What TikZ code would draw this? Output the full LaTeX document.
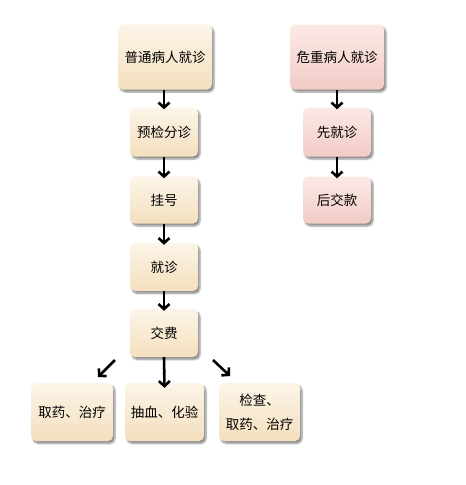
\documentclass[tikz,border=0pt]{standalone}
\usepackage{fontspec}
\newfontfamily\cjk{Noto Sans CJK SC}
\usetikzlibrary{arrows.meta,shadows.blur}
\definecolor{ctop}{HTML}{FCF5E8}
\definecolor{cbot}{HTML}{F3DFBE}
\definecolor{ptop}{HTML}{FCE9E6}
\definecolor{pbot}{HTML}{F2CBC6}
\tikzset{
  box/.style={rounded corners=5pt, draw=none, top color=ctop, bottom color=cbot,
    blur shadow={shadow xshift=2pt, shadow yshift=-2.5pt, shadow blur steps=5, shadow opacity=45},
    font=\cjk\fontsize{13.5pt}{24pt}\selectfont, align=center, inner sep=0pt},
  pbox/.style={box, top color=ptop, bottom color=pbot},
  arr/.style={-{Straight Barb[length=5pt,width=11pt]}, line width=2.6pt, black}
}
\begin{document}
\begin{tikzpicture}[x=1pt,y=-1pt]
\useasboundingbox (0,0) rectangle (466,485);
% left column
\node[box, minimum width=94pt, minimum height=65pt] (a) at (165,57) {普通病人就诊};
\node[box, minimum width=68pt, minimum height=49pt] (b) at (164,132) {预检分诊};
\node[box, minimum width=68pt, minimum height=47pt] (c) at (164,200) {挂号};
\node[box, minimum width=68pt, minimum height=48pt] (d) at (164,267) {就诊};
\node[box, minimum width=68pt, minimum height=48pt] (e) at (164,333) {交费};
\node[box, minimum width=82pt, minimum height=58pt] (f) at (72,412) {取药、治疗};
\node[box, minimum width=79pt, minimum height=58pt] (g) at (164.5,412) {抽血、化验};
\node[box, minimum width=81pt, minimum height=58pt] (h) at (259.5,412) {检查、\\取药、治疗};
% right column
\node[pbox, minimum width=94pt, minimum height=65pt] (p) at (337,57) {危重病人就诊};
\node[pbox, minimum width=68pt, minimum height=49pt] (q) at (337,132) {先就诊};
\node[pbox, minimum width=68pt, minimum height=47pt] (r) at (337,200) {后交款};
% arrows
\draw[arr] (a.south -| b.north) -- ([yshift=-2pt]b.north);
\draw[arr] (b.south) -- ([yshift=-2pt]c.north);
\draw[arr] (c.south) -- ([yshift=-2pt]d.north);
\draw[arr] (d.south) -- ([yshift=-2pt]e.north);
\draw[arr] (e.south) -- ([yshift=-5pt]g.north);
\coordinate (l1) at (115,360); \coordinate (l2) at (98,377);
\coordinate (r1) at (213,360); \coordinate (r2) at (230,376);
\draw[arr] (l1) -- (l2);
\draw[arr] (r1) -- (r2);
\draw[arr] (p.south) -- ([yshift=-2pt]q.north);
\draw[arr] (q.south) -- ([yshift=-2pt]r.north);
\end{tikzpicture}
\end{document}
